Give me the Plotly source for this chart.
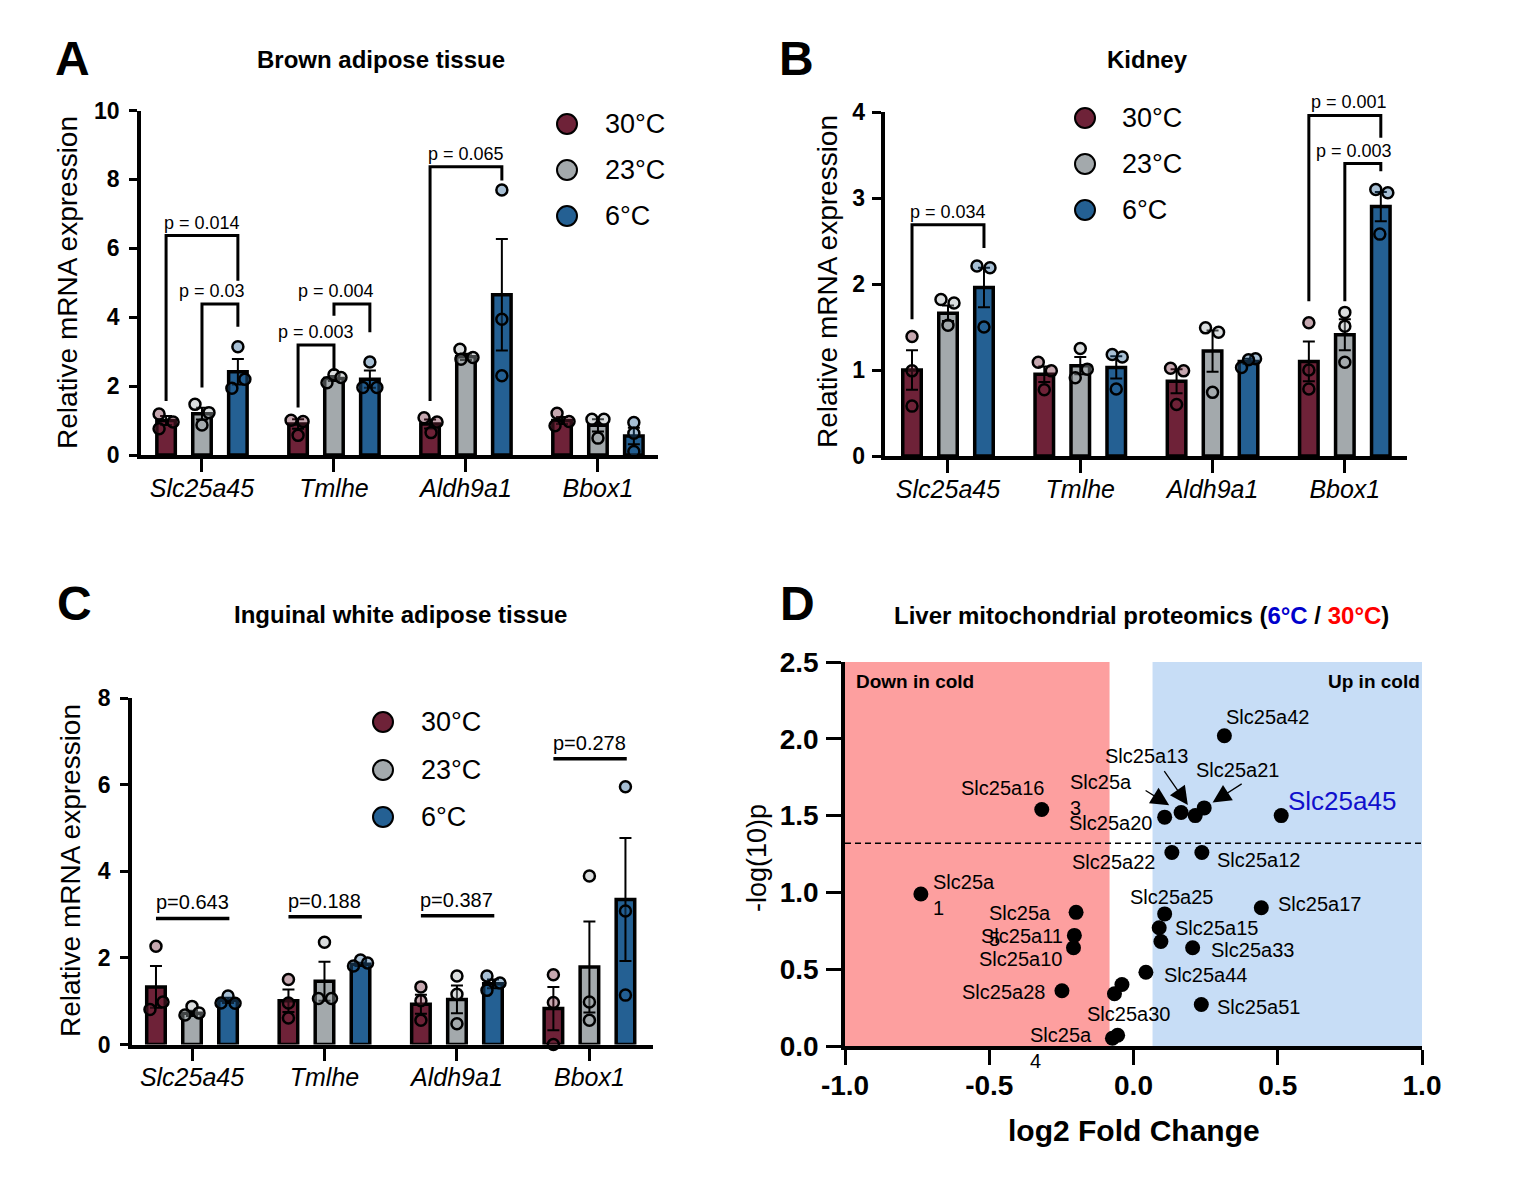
import plotly.graph_objects as go

W, H = 1539, 1201
FONT = "Liberation Sans, Arial, sans-serif"

# ---------------- data ----------------
genes = ["Slc25a45", "Tmlhe", "Aldh9a1", "Bbox1"]
temps = ["30°C", "23°C", "6°C"]

# A: Brown adipose tissue
bat_mean_30 = [1.00, 0.90, 0.90, 1.00]
bat_mean_23 = [1.20, 2.22, 2.85, 0.86]
bat_mean_6 = [2.42, 2.20, 4.65, 0.55]
bat_sem_30 = [0.13, 0.14, 0.13, 0.10]
bat_sem_23 = [0.17, 0.07, 0.09, 0.18]
bat_sem_6 = [0.37, 0.25, 1.62, 0.24]
bat_pts_30 = [[1.19, 0.96, 0.76], [1.01, 0.97, 0.57], [1.08, 0.96, 0.65], [1.21, 0.97, 0.85]]
bat_pts_23 = [[1.47, 1.23, 0.87], [2.10, 2.33, 2.25], [3.07, 2.83, 2.78], [1.04, 1.04, 0.49]]
bat_pts_6 = [[3.14, 2.20, 1.94], [2.70, 1.96, 1.96], [7.69, 3.94, 2.30], [0.94, 0.63, 0.10]]
bat_p_text = ["p = 0.014", "p = 0.03", "p = 0.003", "p = 0.004", "p = 0.065"]

# B: Kidney
kid_mean_30 = [1.00, 0.95, 0.87, 1.10]
kid_mean_23 = [1.66, 1.05, 1.22, 1.41]
kid_mean_6 = [1.96, 1.03, 1.10, 2.90]
kid_sem_30 = [0.23, 0.09, 0.14, 0.23]
kid_sem_23 = [0.09, 0.10, 0.24, 0.18]
kid_sem_6 = [0.23, 0.13, 0.03, 0.17]
kid_pts_30 = [[1.39, 0.99, 0.58], [1.09, 0.99, 0.77], [1.02, 0.99, 0.60], [1.55, 1.00, 0.78]]
kid_pts_23 = [[1.82, 1.78, 1.52], [1.25, 1.01, 0.91], [1.49, 1.44, 0.74], [1.67, 1.51, 1.09]]
kid_pts_6 = [[2.21, 2.19, 1.50], [1.18, 1.15, 0.78], [1.13, 1.12, 1.03], [3.10, 3.06, 2.58]]
kid_p_text = ["p = 0.034", "p = 0.001", "p = 0.003"]

# C: Inguinal white adipose tissue
iwat_mean_30 = [1.33, 1.01, 0.93, 0.83]
iwat_mean_23 = [0.72, 1.46, 1.04, 1.79]
iwat_mean_6 = [1.02, 1.85, 1.40, 3.35]
iwat_sem_30 = [0.48, 0.26, 0.22, 0.50]
iwat_sem_23 = [0.06, 0.45, 0.32, 1.05]
iwat_sem_6 = [0.06, 0.04, 0.10, 1.42]
iwat_pts_30 = [[2.27, 0.98, 0.81], [1.50, 0.96, 0.61], [1.33, 1.01, 0.56], [1.61, 0.97, 0.00]]
iwat_pts_23 = [[0.88, 0.73, 0.68], [2.36, 1.06, 1.06], [1.58, 1.16, 0.48], [3.89, 0.98, 0.56]]
iwat_pts_6 = [[1.12, 0.96, 0.95], [1.95, 1.88, 1.81], [1.58, 1.42, 1.25], [5.95, 3.08, 1.14]]
iwat_p_text = ["p=0.643", "p=0.188", "p=0.387", "p=0.278"]

# D: Liver mitochondrial proteomics volcano
vol_genes = ["Slc25a42", "Slc25a45", "Slc25a16", "Slc25a20", "Slc25a3", "Slc25a13", "Slc25a21",
             "Slc25a22", "Slc25a12", "Slc25a1", "Slc25a5", "Slc25a11", "Slc25a10", "Slc25a28",
             "Slc25a30", "", "Slc25a4", "", "Slc25a25", "Slc25a15", "", "Slc25a33", "Slc25a44",
             "Slc25a51", "Slc25a17"]
vol_log2fc = [0.315, 0.512, -0.318, 0.108, 0.165, 0.214, 0.245, 0.133, 0.237, -0.737, -0.199,
              -0.205, -0.208, -0.248, -0.066, -0.040, -0.073, -0.055, 0.108, 0.089, 0.095,
              0.205, 0.043, 0.235, 0.443]
vol_neglogp = [2.02, 1.50, 1.54, 1.49, 1.52, 1.50, 1.55, 1.26, 1.26, 0.99, 0.87, 0.72, 0.64,
               0.36, 0.34, 0.40, 0.05, 0.07, 0.86, 0.77, 0.68, 0.64, 0.48, 0.27, 0.90]
sig_threshold = 1.32
down_edge = -0.083
up_edge = 0.066

# ---------------- styling / layout helpers ----------------
bar_colors = ["#6e2238", "#a3a9ac", "#246093"]
dot_fills = ["rgba(110,34,56,0.4)", "rgba(163,169,172,0.4)", "rgba(36,96,147,0.4)"]
OFF = [-0.272, 0.0, 0.272]
PXG = 132.0  # pixels per group unit

bat_jit = [[[-7, 7, -7], [-7, 5, 0], [-6, 7, 1], [-5, 7, -7]],
           [[-7, 7, 0], [-7, 0, 7], [-6, 7, -5], [-6, 6, 0]],
           [[0, 7, -6], [0, -7, 7], [0, 0, 0], [0, 0, 0]]]
kid_jit = [[[0, 0, 0], [-6, 7, 0], [-6, 7, 0], [0, 0, 0]],
           [[-7, 6, 0], [0, 7, -5], [-7, 6, 0], [0, 0, 0]],
           [[-7, 6, 0], [-4, 6, 0], [7, 0, -7], [-5, 7, -1]]]
iwat_jit = [[[0, 7, -6], [0, 0, 0], [0, 0, 0], [0, 0, 0]],
            [[0, 7, -7], [0, -6, 7], [0, 0, 0], [0, 0, 0]],
            [[0, -7, 7], [0, 7, -7], [-6, 7, -6], [0, 0, 0]]]

# brackets: (group, from bar, to bar, top, left foot, right foot, text x shift px)
bat_br = [(0, 0, 2, 6.37, 1.57, 5.06, 0), (0, 1, 2, 4.38, 1.96, 3.72, -8),
          (1, 0, 1, 3.19, 1.38, 2.44, 0), (1, 1, 2, 4.38, 4.04, 3.56, -16),
          (2, 0, 2, 8.37, 1.57, 7.97, 0)]
kid_br = [(0, 0, 2, 2.69, 1.59, 2.42, 0), (3, 0, 2, 3.96, 1.80, 3.70, 4),
          (3, 1, 2, 3.40, 1.80, 3.31, -9)]
iwat_line_h = [2.91, 2.95, 2.97, 6.60]


def px(x):
    return x / W


def py(y):
    return 1 - y / H


fig = go.Figure()
shapes = []
annos = []


def paper_text(x, y, text, size, **kw):
    d = dict(x=px(x), y=py(y), xref="paper", yref="paper", text=text, showarrow=False,
             xanchor="center", yanchor="middle", font=dict(size=size, color="black", family=FONT))
    d.update(kw)
    annos.append(d)


def add_bar_panel(xa, ya, means, sems, pts, jit):
    for k in range(3):
        fig.add_trace(go.Bar(
            x=[g + OFF[k] for g in range(4)], y=means[k], width=0.14,
            marker=dict(color=bar_colors[k], line=dict(color="black", width=3.5)),
            error_y=dict(type="data", array=sems[k], color="black", thickness=2, width=6),
            xaxis=xa, yaxis=ya, showlegend=False))
    for k in range(3):
        xs, ys = [], []
        for g in range(4):
            for v, j in zip(pts[k][g], jit[k][g]):
                xs.append(g + OFF[k] + j / PXG)
                ys.append(v)
        fig.add_trace(go.Scatter(
            x=xs, y=ys, mode="markers", cliponaxis=False,
            marker=dict(size=11, color=dot_fills[k], line=dict(color="black", width=2.5)),
            xaxis=xa, yaxis=ya, showlegend=False))


def add_brackets(xr, yr, brs, texts):
    for (g, a, b, top, fl, fr, dx), t in zip(brs, texts):
        xl, xrr = g + OFF[a], g + OFF[b]
        shapes.append(dict(type="path", xref=xr, yref=yr,
                           path=f"M {xl},{fl} L {xl},{top} L {xrr},{top} L {xrr},{fr}",
                           line=dict(color="black", width=3)))
        annos.append(dict(x=(xl + xrr) / 2, y=top, xref=xr, yref=yr, text=t, showarrow=False,
                          xanchor="center", yanchor="bottom", yshift=1, xshift=dx,
                          font=dict(size=18, color="black", family=FONT)))


def add_legend(cx, labx, ys):
    for k in range(3):
        shapes.append(dict(type="circle", xref="paper", yref="paper", xsizemode="pixel",
                           ysizemode="pixel", xanchor=px(cx), yanchor=py(ys[k]),
                           x0=-10, x1=10, y0=-10, y1=10, fillcolor=bar_colors[k],
                           line=dict(color="black", width=2)))
        paper_text(labx, ys[k], temps[k], 27, xanchor="left")


add_bar_panel("x", "y", [bat_mean_30, bat_mean_23, bat_mean_6],
              [bat_sem_30, bat_sem_23, bat_sem_6], [bat_pts_30, bat_pts_23, bat_pts_6], bat_jit)
add_bar_panel("x2", "y2", [kid_mean_30, kid_mean_23, kid_mean_6],
              [kid_sem_30, kid_sem_23, kid_sem_6], [kid_pts_30, kid_pts_23, kid_pts_6], kid_jit)
add_bar_panel("x3", "y3", [iwat_mean_30, iwat_mean_23, iwat_mean_6],
              [iwat_sem_30, iwat_sem_23, iwat_sem_6], [iwat_pts_30, iwat_pts_23, iwat_pts_6], iwat_jit)

add_brackets("x", "y", bat_br, bat_p_text)
add_brackets("x2", "y2", kid_br, kid_p_text)
for g, (h, t) in enumerate(zip(iwat_line_h, iwat_p_text)):
    shapes.append(dict(type="line", xref="x3", yref="y3", x0=g + OFF[0], x1=g + OFF[2] + 0.01,
                       y0=h, y1=h, line=dict(color="black", width=3.5)))
    annos.append(dict(x=g, y=h, xref="x3", yref="y3", text=t, showarrow=False,
                      xanchor="center", yanchor="bottom", yshift=3,
                      font=dict(size=20, color="black", family=FONT)))

add_legend(567, 603, [124, 170, 216])
add_legend(1085, 1120, [118, 164, 210])
add_legend(383, 419, [722, 770, 817])

# ---- volcano ----
shapes.append(dict(type="rect", xref="x4", yref="y4", x0=-1, x1=down_edge, y0=0, y1=2.5,
                   fillcolor="#fd9f9f", line=dict(width=0), layer="below"))
shapes.append(dict(type="rect", xref="x4", yref="y4", x0=up_edge, x1=1, y0=0, y1=2.5,
                   fillcolor="#c7ddf6", line=dict(width=0), layer="below"))
shapes.append(dict(type="line", xref="x4", yref="y4", x0=-1, x1=1, y0=sig_threshold,
                   y1=sig_threshold, line=dict(color="black", width=1.5, dash="6px,4px")))
fig.add_trace(go.Scatter(x=vol_log2fc, y=vol_neglogp, mode="markers", xaxis="x4", yaxis="y4",
                         cliponaxis=False, marker=dict(size=15, color="black"), showlegend=False))

# label placement: anchor, dx px, dy px (screen, down positive), text override
label_place = {
    "Slc25a42": ("left", 0, -19, None), "Slc25a45": ("left", 5, -15, None),
    "Slc25a16": ("center", -39, -21, None), "Slc25a20": ("center", -54, 6, None),
    "Slc25a3": ("left", -113, -18, "Slc25a<br>3"), "Slc25a13": ("center", -49, -60, None),
    "Slc25a21": ("center", 33, -38, None), "Slc25a22": ("center", -58, 10, None),
    "Slc25a12": ("left", 13, 8, None), "Slc25a1": ("left", 10, 1, "Slc25a<br>1"),
    "Slc25a5": ("left", -89, 14, "Slc25a<br>5"), "Slc25a11": ("center", -52, 1, None),
    "Slc25a10": ("center", -53, 11, None), "Slc25a28": ("center", -58, 1, None),
    "Slc25a30": ("center", 14, 20, None), "Slc25a4": ("left", -84, 10, "Slc25a<br>4"),
    "Slc25a25": ("center", 7, -17, None), "Slc25a15": ("left", 14, 0, None),
    "Slc25a33": ("left", 16, 2, None), "Slc25a44": ("left", 16, 3, None),
    "Slc25a51": ("left", 14, 2, None), "Slc25a17": ("left", 15, -4, None),
}
arrow_place = {"Slc25a3": (-37, -23, 14), "Slc25a13": (-32, -46, 13), "Slc25a21": (39, -25, 10)}

for gname, xv, yv in zip(vol_genes, vol_log2fc, vol_neglogp):
    if not gname:
        continue
    anc, dx, dy, txt = label_place[gname]
    big = gname == "Slc25a45"
    annos.append(dict(x=xv, y=yv, xref="x4", yref="y4", text=txt or gname, showarrow=False,
                      xanchor=anc, yanchor="middle", align="left", xshift=dx, yshift=-dy,
                      font=dict(size=26 if big else 20, color="#1010cc" if big else "black",
                                family=FONT)))
    if gname in arrow_place:
        ax, ay, so = arrow_place[gname]
        annos.append(dict(x=xv, y=yv, xref="x4", yref="y4", text="", showarrow=True,
                          ax=ax, ay=ay, axref="pixel", ayref="pixel", standoff=so,
                          arrowhead=2, arrowsize=2.8, arrowwidth=1.3, arrowcolor="black"))

annos.append(dict(x=0.016, y=0.95, xref="x4 domain", yref="y4 domain", text="<b>Down in cold</b>",
                  showarrow=False, xanchor="left", yanchor="middle",
                  font=dict(size=19, color="black", family=FONT)))
annos.append(dict(x=1.0, y=0.95, xref="x4 domain", yref="y4 domain", text="<b>Up in cold</b>",
                  showarrow=False, xanchor="right", yanchor="middle",
                  font=dict(size=19, color="black", family=FONT)))

# ---- panel letters, titles, axis titles ----
for L, (x, y) in {"A": (72, 59), "B": (796, 58), "C": (74, 603), "D": (797, 603)}.items():
    paper_text(x, y, f"<b>{L}</b>", 48)
titles = [("Brown adipose tissue", 381, 60), ("Kidney", 1147, 60),
          ("Inguinal white adipose tissue", 400, 614),
          ("Liver mitochondrial proteomics (<span style='color:#0000cc'>6°C</span> / "
           "<span style='color:#ff0000'>30°C</span>)", 1141, 615)]
for t, x, y in titles:
    paper_text(x, y, f"<b>{t}</b>", 24)
for x, y in [(68, 283), (828, 282), (70, 871)]:
    paper_text(x, y, "Relative mRNA expression", 28, textangle=-90)
paper_text(757, 858, "-log(10)p", 27, textangle=-90)
paper_text(1134, 1130, "<b>log2 Fold Change</b>", 30)


def xcat(dom, rng):
    return dict(domain=[px(dom[0]), px(dom[1])], range=list(rng), showline=True, linecolor="black",
                linewidth=3.5, ticks="outside", tickcolor="black", tickwidth=3, ticklen=13,
                tickmode="array", tickvals=[0, 1, 2, 3], ticktext=[f"<i>{g}</i>" for g in genes],
                tickfont=dict(size=25, color="black", family=FONT), ticklabelstandoff=-5,
                showgrid=False, zeroline=False, fixedrange=True)


def ynum(dom, rng, vals, tl=8, size=23, fmt="{:g}", so=5):
    return dict(domain=[py(dom[0]), py(dom[1])], range=list(rng), showline=True, linecolor="black",
                linewidth=3.5, ticks="outside", tickcolor="black", tickwidth=3, ticklen=tl,
                tickmode="array", tickvals=vals, ticktext=[f"<b>{fmt.format(v)}</b>" for v in vals],
                tickfont=dict(size=size, color="black", family=FONT), ticklabelstandoff=so,
                showgrid=False, zeroline=False, fixedrange=True)


layout = dict(
    width=W, height=H, margin=dict(l=0, r=0, t=0, b=0, pad=0, autoexpand=False), autosize=False,
    paper_bgcolor="white", plot_bgcolor="rgba(0,0,0,0)", barmode="overlay",
    font=dict(family=FONT, color="black"), showlegend=False,
    xaxis=dict(xcat((141, 658), (-0.462, 3.455)), anchor="y"),
    yaxis=dict(ynum((455, 110.5), (0, 10), [0, 2, 4, 6, 8, 10]), anchor="x"),
    xaxis2=dict(xcat((884.5, 1407), (-0.48, 3.47)), anchor="y2"),
    yaxis2=dict(ynum((456, 112), (0, 4), [0, 1, 2, 3, 4], tl=9, so=2), anchor="x2"),
    xaxis3=dict(xcat((132, 653), (-0.453, 3.48)), anchor="y3"),
    yaxis3=dict(ynum((1044.5, 698), (0, 8), [0, 2, 4, 6, 8]), anchor="x3"),
    xaxis4=dict(domain=[px(845), px(1422)], range=[-1, 1], anchor="y4", showline=True,
                linecolor="black", linewidth=3.5, ticks="outside", tickcolor="black", tickwidth=3,
                ticklen=15, tickmode="array", tickvals=[-1, -0.5, 0, 0.5, 1],
                ticktext=[f"<b>{v:.1f}</b>" for v in [-1, -0.5, 0, 0.5, 1]],
                tickfont=dict(size=28, color="black", family=FONT), ticklabelstandoff=-3,
                showgrid=False, zeroline=False, fixedrange=True),
    yaxis4=dict(ynum((1046, 662), (0, 2.5), [0, 0.5, 1.0, 1.5, 2.0, 2.5], tl=15, size=28,
                     fmt="{:.1f}", so=2), anchor="x4"),
    shapes=shapes, annotations=annos,
)
fig.update_layout(**layout)
fig.write_html("out.html", config={"displayModeBar": False},
               post_script="document.body.style.margin='0';document.body.style.overflow='hidden';")
